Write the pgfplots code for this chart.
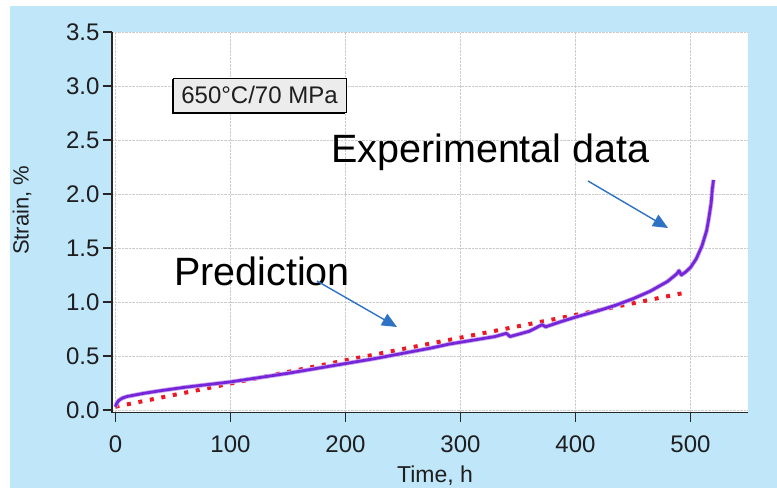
\documentclass[border=0pt]{standalone}
\usepackage{pgfplots}
\pgfplotsset{compat=1.18}
\usepackage{fontspec}
\setmainfont{Liberation Sans}
\usetikzlibrary{arrows.meta}
\definecolor{bgblue}{RGB}{192,230,250}
\definecolor{expviolet}{RGB}{118,38,216}
\definecolor{predred}{RGB}{236,24,36}
\definecolor{arrowblue}{RGB}{46,114,196}
\definecolor{boxgray}{RGB}{236,236,236}
\definecolor{txt}{RGB}{30,30,30}
\begin{document}
\begin{tikzpicture}
\fill[white] (0bp,0bp) rectangle (777bp,488bp);
\fill[bgblue] (10bp,0bp) rectangle (777bp,482bp);
\begin{axis}[
  at={(112bp,75.3bp)}, anchor=south west,
  scale only axis, width=636bp, height=380.7bp,
  xmin=-3, xmax=550, ymin=-0.025, ymax=3.5,
  axis x line*=bottom, axis y line*=left,
  axis line style={-, line width=1.3bp, black!85},
  axis background/.style={fill=white},
  xtick={0,100,200,300,400,500},
  ytick={0,0.5,1,1.5,2,2.5,3,3.5},
  tick align=outside, major tick length=9bp,
  tick style={line width=1.2bp, black!85},
  grid=major,
  major grid style={densely dotted, gray!40, line width=0.8bp},
  /pgf/number format/assume math mode=true,
  tick label style={font=\fontsize{24bp}{28bp}\selectfont, text=txt},
  yticklabel style={/pgf/number format/.cd, fixed, fixed zerofill, precision=1},
  xticklabel style={/pgf/number format/.cd, fixed, precision=0},
  xticklabel shift=11bp,
  xlabel={Time, h}, ylabel={Strain, \%},
  every axis x label/.style={at={(axis description cs:0.508,-0.165)}, anchor=center, font=\fontsize{23bp}{27bp}\selectfont, text=txt},
  every axis y label/.style={at={(axis description cs:-0.1415,0.532)}, rotate=90, anchor=center, font=\fontsize{22bp}{26bp}\selectfont, text=txt},
  clip=false,
]
% Prediction (red dotted)
\addplot[predred, line width=4bp, dash pattern=on 4bp off 7.7bp] coordinates {
(0,0.03) (100,0.245) (200,0.46) (300,0.67) (400,0.88) (497,1.09)
};
% Experimental data (violet)
\addplot[expviolet!40, line width=4.4bp, line join=round] coordinates {
(0,0.03) (1,0.06) (3,0.09) (6,0.11) (10,0.125) (15,0.135) (25,0.155) (40,0.18) (60,0.21) (80,0.235) (100,0.26) (125,0.3) (150,0.34) (175,0.385) (200,0.43) (225,0.475) (250,0.525) (275,0.575) (290,0.61) (310,0.645) (330,0.68) (340,0.71) (343,0.68) (350,0.7) (360,0.73) (371,0.79) (374,0.77) (385,0.81) (400,0.86) (420,0.92) (435,0.97) (450,1.03) (465,1.1) (480,1.19) (488,1.26) (490,1.29) (492,1.25) (496,1.28) (500,1.32) (505,1.4) (510,1.52) (514,1.66) (516,1.78) (518,1.92) (519,2.05) (520,2.13)
};
\addplot[expviolet, line width=2.8bp, line join=round] coordinates {
(0,0.03) (1,0.06) (3,0.09) (6,0.11) (10,0.125) (15,0.135) (25,0.155) (40,0.18) (60,0.21) (80,0.235) (100,0.26) (125,0.3) (150,0.34) (175,0.385) (200,0.43) (225,0.475) (250,0.525) (275,0.575) (290,0.61) (310,0.645) (330,0.68) (340,0.71) (343,0.68) (350,0.7) (360,0.73) (371,0.79) (374,0.77) (385,0.81) (400,0.86) (420,0.92) (435,0.97) (450,1.03) (465,1.1) (480,1.19) (488,1.26) (490,1.29) (492,1.25) (496,1.28) (500,1.32) (505,1.4) (510,1.52) (514,1.66) (516,1.78) (518,1.92) (519,2.05) (520,2.13)
};
\end{axis}
% condition box with shadow
\fill[black] (171.5bp,373.5bp) rectangle (344.5bp,408.5bp);
\filldraw[fill=boxgray, draw=black, line width=0.8bp] (173.5bp,375.5bp) rectangle (346bp,410bp);
\node[anchor=center, text=txt, font=\fontsize{24bp}{28bp}\selectfont, inner sep=0pt] at (259.5bp,392.7bp) {650°C/70 MPa};
% annotations
\node[anchor=base west, inner sep=0pt, font=\fontsize{39.5bp}{45bp}\selectfont] at (331bp,325bp) {Experimental data};
\node[anchor=base west, inner sep=0pt, font=\fontsize{39.5bp}{45bp}\selectfont] at (174bp,202bp) {Prediction};
\draw[arrowblue, line width=1.4bp, -{Triangle[length=15bp,width=13bp]}] (588bp,307bp) -- (668bp,260bp);
\draw[arrowblue, line width=1.4bp, -{Triangle[length=15bp,width=13bp]}] (317bp,207bp) -- (397bp,161bp);
\pgfresetboundingbox
\path[use as bounding box] (0bp,0bp) rectangle (777bp,488bp);
\end{tikzpicture}
\end{document}
